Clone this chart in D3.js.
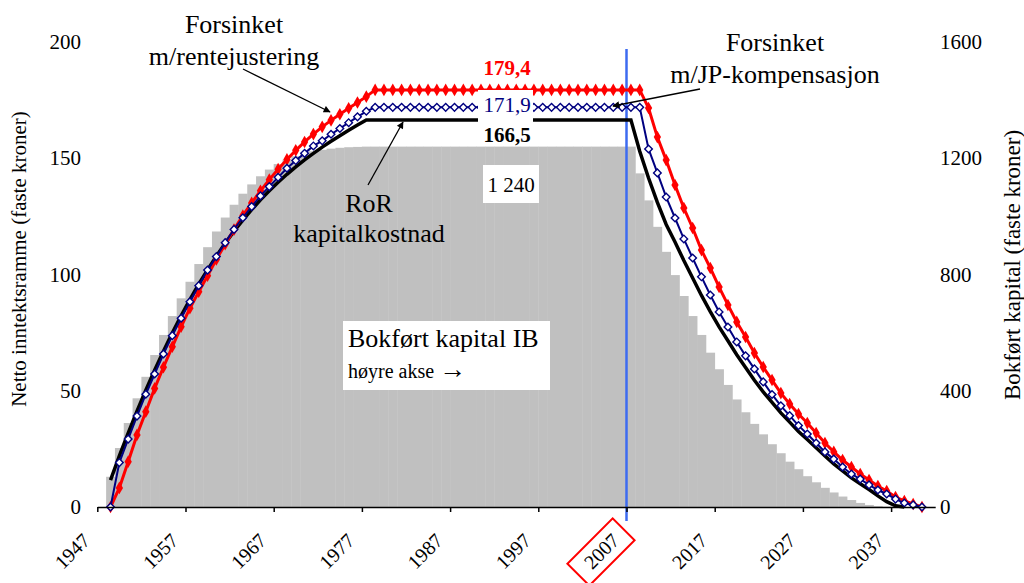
<!DOCTYPE html>
<html>
<head>
<meta charset="utf-8">
<script src="https://cdn.jsdelivr.net/npm/d3@7"></script>
<style>
  body { margin: 0; background: #fff; }
</style>
</head>
<body>
<svg id="chart" width="1024" height="583"></svg>
<script>
// categories and ticks
const years = d3.range(1947, 2042);
const tickYears = [1947, 1957, 1967, 1977, 1987, 1997, 2007, 2017, 2027, 2037];
const leftTicks = [0, 50, 100, 150, 200];
const rightTicks = [0, 400, 800, 1200, 1600];

// Bokført kapital IB (right axis), 1947-2041
const kapitalIB = [
  0, 104, 203, 289, 374, 448, 523, 592, 657, 718,
  775, 836, 894, 948, 996, 1040, 1078, 1110, 1138, 1161,
  1180, 1195, 1207, 1217, 1224, 1229, 1233, 1236, 1238, 1239,
  1240, 1240, 1240, 1240, 1240, 1240, 1240, 1240, 1240, 1240,
  1240, 1240, 1240, 1240, 1240, 1240, 1240, 1240, 1240, 1240,
  1240, 1240, 1240, 1240, 1240, 1240, 1240, 1240, 1240, 1240, 1240,
  1148, 1055, 964, 878, 798, 726, 657, 592, 531, 474,
  420, 370, 326, 286, 250, 216, 185, 156, 130, 106,
  85, 66, 50, 36, 24, 14, 7, 3, 1, 0, 0, 0, 0, 0
];

// RoR kapitalkostnad, 1948-2038
const rorStart = 1948;
const rorKost = [
  11.6, 22, 31.8, 41.2, 50.2, 58.8, 67, 74.8, 82.2, 89.2,
  95.8, 102, 107.9, 113.4, 118.6, 123.4, 127.9, 132.1, 136, 139.7,
  143.1, 146.3, 149.3, 152.1, 154.8, 157.3, 159.7, 162, 164.3, 166.5,
  166.5, 166.5, 166.5, 166.5, 166.5, 166.5, 166.5, 166.5, 166.5, 166.5,
  166.5, 166.5, 166.5, 166.5, 166.5, 166.5, 166.5, 166.5, 166.5, 166.5,
  166.5, 166.5, 166.5, 166.5, 166.5, 166.5, 166.5, 166.5, 166.5, 166.5,
  153, 141.5, 131, 121.5, 114, 106, 98.5, 91, 84, 77.5,
  71.5, 65.5, 60, 54.5, 49.5, 45, 40.5, 36.5, 32.5, 29,
  25.5, 22, 18.5, 15.5, 12.5, 10, 7.5, 4.8, 2.3, 0.5, 0
];

// Forsinket m/rentejustering, 1948-2040
const renteStart = 1948;
const forsinketRente = [
  0, 8.2, 19.5, 31, 41, 51, 60.1, 68.9, 77.5, 85.5,
  92.6, 99.5, 106.5, 113, 119.3, 125.3, 130.8, 136, 140.8, 145.3,
  149.5, 153.4, 157, 160.4, 163.5, 166.3, 168.9, 171.5, 174, 176.5,
  179.4, 179.4, 179.4, 179.4, 179.4, 179.4, 179.4, 179.4, 179.4, 179.4,
  179.4, 179.4, 179.4, 179.4, 179.4, 179.4, 179.4, 179.4, 179.4, 179.4,
  179.4, 179.4, 179.4, 179.4, 179.4, 179.4, 179.4, 179.4, 179.4, 179.4, 179.4,
  171.6, 159.1, 149.2, 138.5, 128.6, 120, 110.5, 102.8, 94.6, 86.9,
  79.6, 73.1, 66.2, 60.2, 54.6, 49, 44.3, 40, 36.1, 31.8,
  27.5, 23.7, 20.2, 17.2, 14.2, 11.6, 9, 6.9, 4.3, 2.6, 1.3, 0
];

// Forsinket m/JP-kompensasjon, 1948-2040
const jpStart = 1948;
const forsinketJP = [
  0, 19.1, 29.2, 39.1, 48.5, 57.2, 65.8, 73.7, 81.2, 88.3,
  95.2, 101.9, 107.7, 113.7, 119.4, 124.4, 129.2, 133.8, 137.8, 141.8,
  145.7, 149, 152.1, 155.3, 157.5, 160.3, 162.8, 165.3, 167.8, 170.2,
  171.9, 171.9, 171.9, 171.9, 171.9, 171.9, 171.9, 171.9, 171.9, 171.9,
  171.9, 171.9, 171.9, 171.9, 171.9, 171.9, 171.9, 171.9, 171.9, 171.9,
  171.9, 171.9, 171.9, 171.9, 171.9, 171.9, 171.9, 171.9, 171.9, 171.9, 171.9,
  154, 143.7, 133.3, 124.3, 115.3, 107.1, 99, 91.2, 83.9, 77.4,
  71, 65, 59.4, 53.8, 48.4, 43.5, 39.3, 35, 31.4, 27.5,
  23.7, 20.6, 17.2, 14.2, 12, 9.5, 7.3, 5.6, 3.4, 1.7, 0.9, 0
];

const FONT = "'Liberation Serif', 'DejaVu Serif', 'Times New Roman', serif";

const svg = d3.select("#chart");

const x = d3.scaleLinear().domain([1947, 2042]).range([97.3, 935.2]);
const yL = d3.scaleLinear().domain([0, 200]).range([507, 42]);
const yR = d3.scaleLinear().domain([0, 1600]).range([507, 42]);

const toPoints = (start, vals) => vals.map((v, i) => ({ yr: start + i, v }));

// arrow head
svg.append("defs").append("marker")
  .attr("id", "arrow")
  .attr("viewBox", "0 0 10 10")
  .attr("refX", 9).attr("refY", 5)
  .attr("markerWidth", 9).attr("markerHeight", 7)
  .attr("markerUnits", "userSpaceOnUse")
  .attr("orient", "auto")
  .append("path").attr("d", "M0,0 L10,5 L0,10 z").attr("fill", "#000");

// gray bars
svg.append("g").selectAll("rect")
  .data(years.map((yr, i) => ({ yr, v: kapitalIB[i] })))
  .join("rect")
  .attr("x", d => x(d.yr))
  .attr("width", x(1948) - x(1947) + 0.4)
  .attr("y", d => yR(d.v))
  .attr("height", d => yR(0) - yR(d.v))
  .attr("fill", "#c0c0c0");

// 2007 marker line
svg.append("line")
  .attr("x1", x(2007)).attr("x2", x(2007))
  .attr("y1", 49).attr("y2", 521)
  .attr("stroke", "#3d6bf0").attr("stroke-width", 2.5);

const line = d3.line().x(d => x(d.yr + 0.5)).y(d => yL(d.v));

// RoR kapitalkostnad
svg.append("path")
  .datum(toPoints(rorStart, rorKost))
  .attr("d", line)
  .attr("fill", "none").attr("stroke", "#000").attr("stroke-width", 3.5);

// Forsinket m/rentejustering
const rentePts = toPoints(renteStart, forsinketRente);
svg.append("path")
  .datum(rentePts)
  .attr("d", line)
  .attr("fill", "none").attr("stroke", "#ff0000").attr("stroke-width", 3);
svg.append("g").selectAll("path")
  .data(rentePts)
  .join("path")
  .attr("transform", d => `translate(${x(d.yr + 0.5)},${yL(d.v)})`)
  .attr("d", d3.symbol(d3.symbolDiamond, 46))
  .attr("fill", "#ff0000");

// Forsinket m/JP-kompensasjon
const jpPts = toPoints(jpStart, forsinketJP);
svg.append("path")
  .datum(jpPts)
  .attr("d", line)
  .attr("fill", "none").attr("stroke", "#000080").attr("stroke-width", 2);
svg.append("g").selectAll("path")
  .data(jpPts)
  .join("path")
  .attr("transform", d => `translate(${x(d.yr + 0.5)},${yL(d.v)}) rotate(45)`)
  .attr("d", d3.symbol(d3.symbolSquare, 29))
  .attr("fill", "#fff").attr("stroke", "#000080").attr("stroke-width", 1.4);

// x axis
const xAxis = svg.append("g")
  .attr("transform", `translate(0,${yL(0)})`)
  .call(d3.axisBottom(x).tickValues(tickYears).tickSize(5).tickSizeOuter(0).tickFormat(d3.format("d")));
xAxis.attr("font-family", FONT);
xAxis.select(".domain").attr("stroke", "#000").attr("stroke-width", 1.5);
xAxis.selectAll(".tick line").attr("stroke", "#000").attr("stroke-width", 1.5);
xAxis.selectAll(".tick text")
  .attr("x", 0).attr("y", 0).attr("dy", "0.35em")
  .attr("text-anchor", "end")
  .attr("transform", "translate(-11.5,30) rotate(-45)")
  .attr("fill", "#000")
  .style("font-size", "20px");

// red box around 2007
svg.append("rect")
  .attr("transform", `translate(${x(2007) - 25.5},552) rotate(-45)`)
  .attr("x", -32).attr("y", -15.5).attr("width", 64).attr("height", 31)
  .attr("fill", "none").attr("stroke", "#ff0000").attr("stroke-width", 2);

// left axis
const lAxis = svg.append("g")
  .attr("transform", "translate(97,0)")
  .call(d3.axisLeft(yL).tickValues(leftTicks).tickSize(0).tickPadding(16).tickFormat(d3.format("d")));
lAxis.attr("font-family", FONT);
lAxis.select(".domain").remove();
lAxis.selectAll("text").attr("fill", "#000").style("font-size", "21px");

// right axis
const rAxis = svg.append("g")
  .attr("transform", "translate(935,0)")
  .call(d3.axisRight(yR).tickValues(rightTicks).tickSize(0).tickPadding(5).tickFormat(d3.format("d")));
rAxis.attr("font-family", FONT);
rAxis.select(".domain").remove();
rAxis.selectAll("text").attr("fill", "#000").style("font-size", "21px");

// text helper
const label = (tx, ty, t, size, opts = {}) => svg.append("text")
  .attr("x", tx).attr("y", ty)
  .attr("font-family", FONT)
  .attr("text-anchor", opts.anchor || "middle")
  .attr("fill", opts.color || "#000")
  .attr("font-weight", opts.bold ? "bold" : "normal")
  .style("font-size", size + "px")
  .text(t);

// axis titles
label(0, 0, "Netto inntektsramme (faste kroner)", 21)
  .attr("dominant-baseline", "central")
  .attr("transform", "translate(19,259) rotate(-90)");
label(0, 0, "Bokført kapital (faste kroner)", 23)
  .attr("dominant-baseline", "central")
  .attr("transform", "translate(1012,265) rotate(-90)");

// value labels on the plateau
svg.append("rect")
  .attr("x", 478).attr("y", 90).attr("width", 55).attr("height", 55)
  .attr("fill", "#fff");
label(507, 75, "179,4", 21, { bold: true, color: "#ff0000" });
label(507, 112, "171,9", 21, { color: "#000080" });
label(507, 142, "166,5", 21, { bold: true });

svg.append("rect")
  .attr("x", 483).attr("y", 165).attr("width", 56).attr("height", 38)
  .attr("fill", "#fff");
label(511, 192, "1 240", 21);

// Bokført kapital IB box
svg.append("rect")
  .attr("x", 343).attr("y", 321).attr("width", 207).attr("height", 69)
  .attr("fill", "#fff");
label(348, 347, "Bokført kapital IB", 26, { anchor: "start" });
const hint = label(348, 378, "høyre akse ", 20, { anchor: "start" });
hint.append("tspan").style("font-size", "27px").text("→");

// annotations
label(234, 33, "Forsinket", 26);
label(234, 65, "m/rentejustering", 26);
label(775, 51, "Forsinket", 26);
label(775, 83, "m/JP-kompensasjon", 26);
label(369, 212, "RoR", 26);
label(369, 242, "kapitalkostnad", 26);

const arrow = (x1, y1, x2, y2) => svg.append("line")
  .attr("x1", x1).attr("y1", y1).attr("x2", x2).attr("y2", y2)
  .attr("stroke", "#000").attr("stroke-width", 1.3)
  .attr("marker-end", "url(#arrow)");
arrow(243, 69, 330, 112);
arrow(700, 89, 613, 106);
arrow(368, 185, 403, 122);
</script>
</body>
</html>
